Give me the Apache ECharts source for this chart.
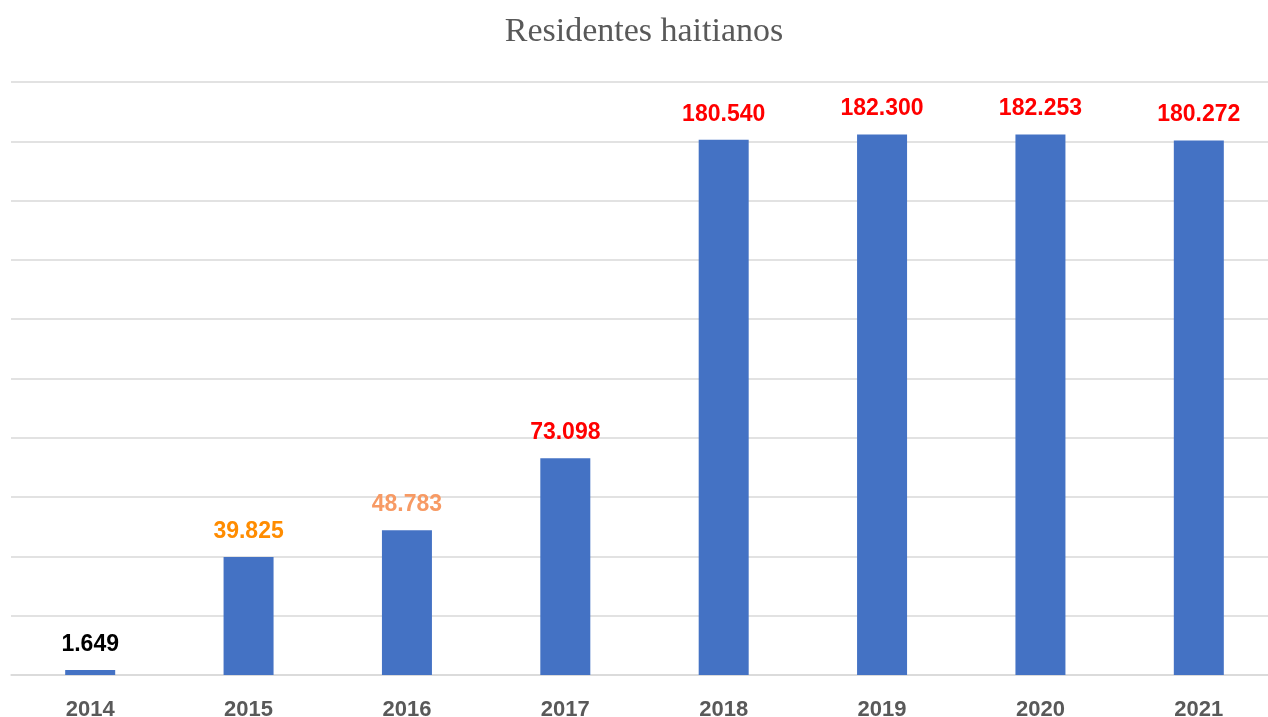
<!DOCTYPE html>
<html>
<head>
<meta charset="utf-8">
<script src="https://cdn.jsdelivr.net/npm/echarts@6/dist/echarts.min.js"></script>
<style>html,body{margin:0;padding:0;background:#fff;overflow:hidden}#c{width:1290px;height:717px}</style>
</head>
<body>
<div id="c"></div>
<script>
const titleText = "Residentes haitianos";
const years = ["2014","2015","2016","2017","2018","2019","2020","2021"];
const residents = [1649, 39825, 48783, 73098, 180540, 182300, 182253, 180272];
const labelColors = ["#000000","#FF8C00","#F79A64","#FF0000","#FF0000","#FF0000","#FF0000","#FF0000"];

function fmt(v){ return String(v).replace(/\B(?=(\d{3})+(?!\d))/g, "."); }

const chart = echarts.init(document.getElementById('c'), null, {renderer:'canvas'});
chart.setOption({
  animation: false,
  backgroundColor: '#ffffff',
  title: {
    text: titleText,
    left: 639,
    textAlign: 'center',
    top: 10,
    textStyle: {fontFamily: '"Liberation Serif", serif', fontWeight: 'normal', fontSize: 34, color: '#595959'}
  },
  grid: {left: 11, top: 82, width: 1267, height: 593, containLabel: false, outerBoundsMode: 'none'},
  xAxis: {
    type: 'category',
    data: years,
    axisTick: {show: false},
    axisLine: {lineStyle: {color: '#d9d9d9', width: 1.5}},
    axisLabel: {fontFamily: '"Liberation Sans", sans-serif', fontWeight: 'bold', fontSize: 22, color: '#595959', margin: 24}
  },
  yAxis: {
    type: 'value',
    min: 0, max: 200000, interval: 20000,
    axisLabel: {show: false},
    axisLine: {show: false},
    axisTick: {show: false},
    splitLine: {lineStyle: {color: '#d9d9d9', width: 1.5}}
  },
  series: [{
    type: 'bar',
    barWidth: 50,
    data: residents.map((v, i) => ({
      value: v,
      label: {color: labelColors[i]}
    })),
    itemStyle: {color: '#4472C4'},
    label: {
      show: true,
      position: 'top',
      distance: 14,
      fontFamily: '"Liberation Sans", sans-serif',
      fontWeight: 'bold',
      fontSize: 23,
      formatter: p => fmt(p.value)
    }
  }]
});
</script>
</body>
</html>
